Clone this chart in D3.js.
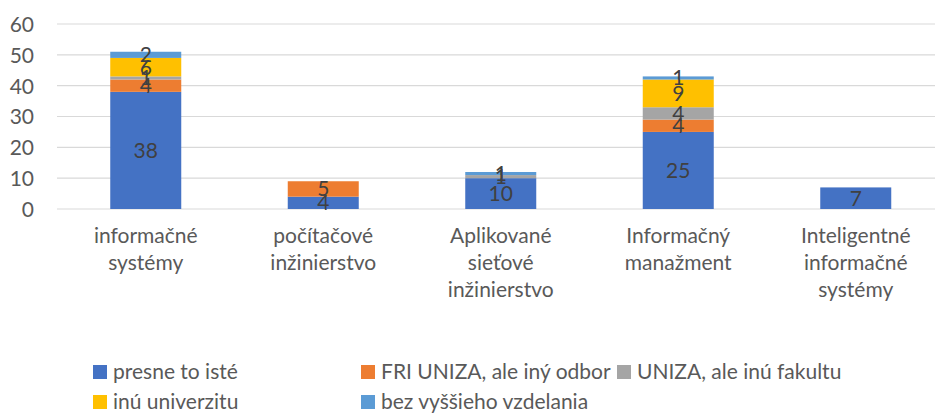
<!DOCTYPE html>
<html><head><meta charset="utf-8">
<script src="https://cdn.jsdelivr.net/npm/d3@7"></script>
<style>
html,body{margin:0;padding:0;background:#fff;}
svg{display:block;font-family:Lato,"Open Sans",sans-serif;}
</style></head>
<body>
<svg id="chart" width="935" height="414"></svg>
<script>
const categories = [
  ["informačné","systémy"],
  ["počítačové","inžinierstvo"],
  ["Aplikované","sieťové","inžinierstvo"],
  ["Informačný","manažment"],
  ["Inteligentné","informačné","systémy"]
];
const seriesNames = ["presne to isté","FRI UNIZA, ale iný odbor","UNIZA, ale inú fakultu","inú univerzitu","bez vyššieho vzdelania"];
const seriesColors = ["#4472C4","#ED7D31","#A5A5A5","#FFC000","#5B9BD5"];
const presne   = [38, 4, 10, 25, 7];
const friIny   = [4, 5, 0, 4, 0];
const unizaIna = [1, 0, 1, 4, 0];
const inaUniv  = [6, 0, 0, 9, 0];
const bezVys   = [2, 0, 1, 1, 0];
const yTicks = [0,10,20,30,40,50,60];

const seriesValues = [presne, friIny, unizaIna, inaUniv, bezVys];
const rows = categories.map((c,i)=>{
  const r = {cat: i};
  seriesNames.forEach((s,j)=> r[s] = seriesValues[j][i]);
  return r;
});
const stack = d3.stack().keys(seriesNames)(rows);

const svg = d3.select("#chart");
const x = d3.scaleBand().domain(d3.range(categories.length)).range([57, 944.5]).paddingInner(0.6).paddingOuter(0.3);
const y = d3.scaleLinear().domain([0,60]).range([209, 24]);

// gridlines
svg.append("g").selectAll("line").data(yTicks).join("line")
  .attr("x1",57).attr("x2",944.5)
  .attr("y1",d=>y(d)).attr("y2",d=>y(d))
  .attr("stroke","#D9D9D9").attr("stroke-width",1.2);

// y axis labels
const yAxis = d3.axisLeft(y).tickValues(yTicks).tickSize(0).tickPadding(0);
const gy = svg.append("g").attr("transform","translate(34,0)").call(yAxis);
gy.select(".domain").remove();
gy.selectAll("text").attr("font-size",21).attr("fill","#595959").attr("font-family","Lato,'Open Sans',sans-serif").attr("dy","0.35em");

// bars
const layers = svg.append("g").selectAll("g").data(stack).join("g")
  .attr("fill",(d,i)=>seriesColors[i]);
layers.selectAll("rect").data(d=>d).join("rect")
  .attr("x",(d,i)=>x(i)).attr("width",x.bandwidth())
  .attr("y",d=>y(d[1])).attr("height",d=>y(d[0])-y(d[1]));

// data labels
stack.forEach((layer,j)=>{
  svg.append("g").selectAll("text").data(layer.filter(d=>d[1]-d[0]>0)).join("text")
    .attr("x",d=>x(d.data.cat)+x.bandwidth()/2)
    .attr("y",d=>y((d[0]+d[1])/2))
    .attr("dy","0.35em")
    .attr("text-anchor","middle")
    .attr("font-size",21).attr("fill","#404040")
    .text(d=>d[1]-d[0]);
});

// x axis labels
const gx = svg.append("g");
categories.forEach((lines,i)=>{
  const t = gx.append("text").attr("text-anchor","middle").attr("font-size",21).attr("fill","#595959");
  lines.forEach((l,k)=>{
    t.append("tspan").attr("x",x(i)+x.bandwidth()/2).attr("y",243+k*27).text(l);
  });
});

// legend
const legendPos = [[93,372],[361,372],[617,372],[93,402],[361,402]];
const lg = svg.append("g").selectAll("g").data(seriesNames).join("g")
  .attr("transform",(d,i)=>`translate(${legendPos[i][0]},${legendPos[i][1]})`);
lg.append("rect").attr("x",0).attr("y",-7).attr("width",14).attr("height",14).attr("fill",(d,i)=>seriesColors[i]);
lg.append("text").attr("x",20).attr("y",0).attr("dy","0.35em").attr("font-size",21).attr("fill","#595959").text(d=>d);
</script>
</body></html>
